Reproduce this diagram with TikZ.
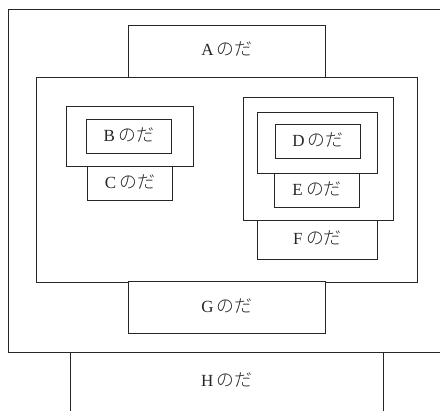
\documentclass[tikz,border=0pt]{standalone}
\usepackage{fontspec}
\setmainfont{Liberation Serif}
\newfontfamily\jp[Scale=1.05]{Noto Sans CJK JP Light}
\usetikzlibrary{fit}
% label: Latin letter followed by のだ
\newcommand{\lbl}[1]{#1\hspace{0.2em}{\jp のだ}}
\begin{document}
\begin{tikzpicture}[x=1pt,y=-1pt,
  frame/.style={draw=black!85, line width=0.9pt, inner sep=0pt, fill=none},
  tag/.style={anchor=base, inner sep=0pt, font=\fontsize{17}{19}\selectfont, text=black!85}]
\useasboundingbox (0,0) rectangle (440,411);
\clip (0,0) rectangle (440,411);
% outermost frame (runs past the right edge)
\node[frame, fit={(8,9) (446,352.7)}] (outer) {};
% main inner frame
\node[frame, fit={(36.3,77) (417.3,282)}] (main) {};
% top and bottom tabs
\node[frame, fill=white, fit={(128.3,25) (325.7,77)}] (A) {};
\node[frame, fill=white, fit={(128.3,281.3) (325.7,333)}] (G) {};
% left group
\node[frame, fit={(66.7,106.3) (193.7,166)}] (bgroup) {};
\node[frame, fit={(86,119) (171.7,153.3)}] (B) {};
\node[frame, fit={(87.3,166) (172.7,200.3)}] (C) {};
% right group
\node[frame, fit={(243.3,97.7) (393.7,220.7)}] (dgroup) {};
\node[frame, fit={(257.3,112.3) (377.7,173.7)}] (dmid) {};
\node[frame, fit={(275.3,124.3) (360.7,158.3)}] (D) {};
\node[frame, fit={(274.3,173.7) (359.7,207.3)}] (E) {};
\node[frame, fit={(257.3,220.7) (377.7,259.3)}] (F) {};
% bottom box (runs past the lower edge)
\node[frame, fit={(70.3,352.7) (383.3,413)}] (H) {};
\coordinate (Hc) at (H.center |- 0,382);
% labels, baseline set just below each box centre
\foreach \b in {A,B,C,D,E,F,G}
  \node[tag] (\b t) at ([yshift=-5pt]\b.center) {\lbl{\b}};
\node[tag] (Ht) at ([yshift=-5pt]Hc) {\lbl{H}};
\end{tikzpicture}
\end{document}
